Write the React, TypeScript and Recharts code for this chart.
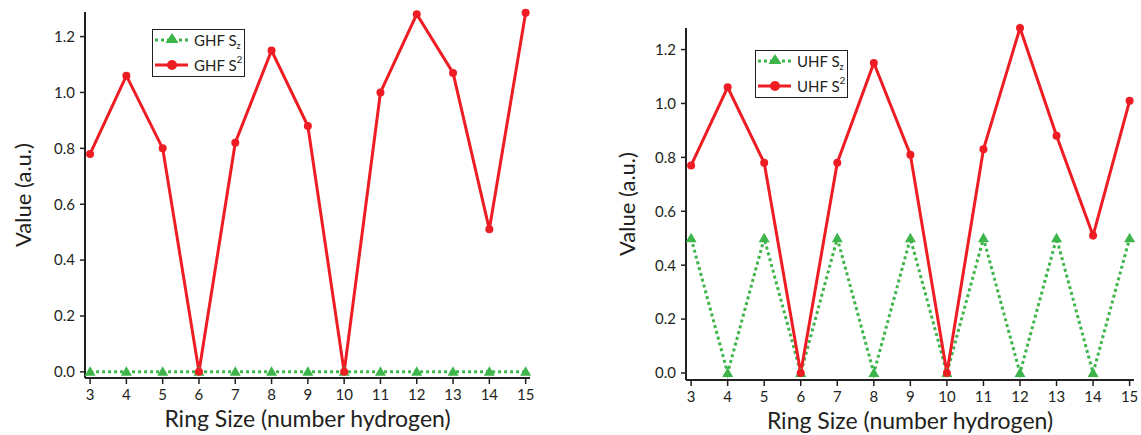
import React from 'react';
import { LineChart, Line, XAxis, YAxis, Legend, Label } from 'recharts';

const ringSizes = [3, 4, 5, 6, 7, 8, 9, 10, 11, 12, 13, 14, 15];
const ghfSz = [0, 0, 0, 0, 0, 0, 0, 0, 0, 0, 0, 0, 0];
const ghfS2 = [0.78, 1.06, 0.8, 0, 0.82, 1.15, 0.88, 0, 1.0, 1.28, 1.07, 0.51, 1.285];
const uhfSz = [0.5, 0, 0.5, 0, 0.5, 0, 0.5, 0, 0.5, 0, 0.5, 0, 0.5];
const uhfS2 = [0.77, 1.06, 0.78, 0, 0.78, 1.15, 0.81, 0, 0.83, 1.28, 0.88, 0.51, 1.01];
const yTicks = [0, 0.2, 0.4, 0.6, 0.8, 1.0, 1.2];
const xTitle = 'Ring Size (number hydrogen)';
const yTitle = 'Value (a.u.)';

const RED = '#ee1d24';
const GREEN = '#3db54a';
const AXIS = '#231f20';
const FONT = 'Lato, "Open Sans", sans-serif';

const buildRows = (sz: number[], s2: number[]) =>
  ringSizes.map((n, i) => ({ n, sz: sz[i], s2: s2[i] }));

const Triangle = (props: any) => {
  const { cx, cy } = props;
  if (cx == null || cy == null) return null;
  return (
    <polygon
      points={`${cx},${cy - 5.5} ${cx - 5.5},${cy + 4} ${cx + 5.5},${cy + 4}`}
      fill={GREEN}
      stroke="none"
    />
  );
};

const makeLegend = (prefix: string) => () => (
  <svg width={93} height={48} style={{ display: 'block' }}>
    <rect x={0.5} y={0.5} width={92} height={47} fill="#fff" stroke={AXIS} strokeWidth={1} />
    <line x1={3} y1={11} x2={36} y2={11} stroke={GREEN} strokeWidth={3} strokeDasharray="3 3" />
    <polygon points="20,4 13.5,14 26.5,14" fill={GREEN} />
    <text x={42} y={16.5} fontSize={15} fill={AXIS} fontFamily={FONT}>
      {prefix} S<tspan fontSize={9} dy={3}>z</tspan>
    </text>
    <line x1={3} y1={36} x2={36} y2={36} stroke={RED} strokeWidth={3} />
    <circle cx={20} cy={36} r={5} fill={RED} />
    <text x={42} y={42} fontSize={15} fill={AXIS} fontFamily={FONT}>
      {prefix} S<tspan fontSize={10} dy={-8}>2</tspan>
    </text>
  </svg>
);

const YTitle = (props: any) => {
  const { viewBox, dist } = props;
  const cx = viewBox.x + viewBox.width - dist;
  const cy = viewBox.y + viewBox.height / 2;
  return (
    <text
      x={cx}
      y={cy}
      transform={`rotate(-90, ${cx}, ${cy})`}
      textAnchor="middle"
      dominantBaseline="central"
      fontSize={22}
      fill={AXIS}
      fontFamily={FONT}
    >
      {yTitle}
    </text>
  );
};

const XTitle = (props: any) => {
  const { viewBox } = props;
  const cx = viewBox.x + viewBox.width / 2;
  const y = viewBox.y + 49;
  return (
    <text x={cx} y={y} textAnchor="middle" fontSize={23} fill={AXIS} fontFamily={FONT}>
      {xTitle}
    </text>
  );
};

type PanelProps = {
  width: number;
  margin: { top: number; right: number; left: number; bottom: number };
  xHeight: number;
  yDomain: [number, number];
  sz: number[];
  s2: number[];
  prefix: string;
  legendPos: { left: number; top: number };
  titleDist: number;
};

const Panel = ({ width, margin, xHeight, yDomain, sz, s2, prefix, legendPos, titleDist }: PanelProps) => {
  const data = buildRows(sz, s2);
  const tickStyle = { fontSize: 15, fill: AXIS, fontFamily: FONT };
  return (
    <LineChart width={width} height={435} data={data} margin={margin}>
      <XAxis
        dataKey="n"
        type="number"
        domain={[2.86, 15.12]}
        ticks={ringSizes}
        height={xHeight}
        stroke={AXIS}
        strokeWidth={2}
        tickSize={6}
        tickMargin={5}
        tick={tickStyle}
        tickLine={{ stroke: AXIS, strokeWidth: 1.5 }}
        interval={0}
      >
        <Label content={<XTitle />} />
      </XAxis>
      <YAxis
        type="number"
        domain={yDomain}
        ticks={yTicks}
        width={60}
        stroke={AXIS}
        strokeWidth={2}
        tickSize={5}
        tickMargin={5}
        tick={tickStyle}
        tickLine={{ stroke: AXIS, strokeWidth: 1.5 }}
        tickFormatter={(v: number) => v.toFixed(1)}
        interval={0}
      >
        <Label content={<YTitle dist={titleDist} />} />
      </YAxis>
      <Legend
        layout="vertical"
        align="center"
        verticalAlign="middle"
        content={makeLegend(prefix)}
        wrapperStyle={{ position: 'absolute', left: legendPos.left, top: legendPos.top, width: 93, height: 48 }}
      />
      <Line
        dataKey="sz"
        stroke={GREEN}
        strokeWidth={3}
        strokeDasharray="3 3"
        dot={<Triangle />}
        activeDot={false}
        isAnimationActive={false}
        name={`${prefix} Sz`}
      />
      <Line
        dataKey="s2"
        stroke={RED}
        strokeWidth={3}
        dot={{ r: 4, fill: RED, stroke: 'none', clipDot: false }}
        activeDot={false}
        isAnimationActive={false}
        name={`${prefix} S2`}
      />
    </LineChart>
  );
};

export default function App() {
  return (
    <div style={{ position: 'absolute', left: 0, top: 0, width: 1141, height: 435, background: '#fff', display: 'flex' }}>
      <Panel
        width={570}
        margin={{ top: 12, right: 40, left: 25, bottom: 0 }}
        xHeight={57}
        yDomain={[-0.022, 1.288]}
        sz={ghfSz}
        s2={ghfS2}
        prefix="GHF"
        legendPos={{ left: 152, top: 29 }}
        titleDist={63}
      />
      <Panel
        width={571}
        margin={{ top: 28, right: 7, left: 56, bottom: 0 }}
        xHeight={55}
        yDomain={[-0.026, 1.278]}
        sz={uhfSz}
        s2={uhfS2}
        prefix="UHF"
        legendPos={{ left: 185, top: 50 }}
        titleDist={60}
      />
    </div>
  );
}
